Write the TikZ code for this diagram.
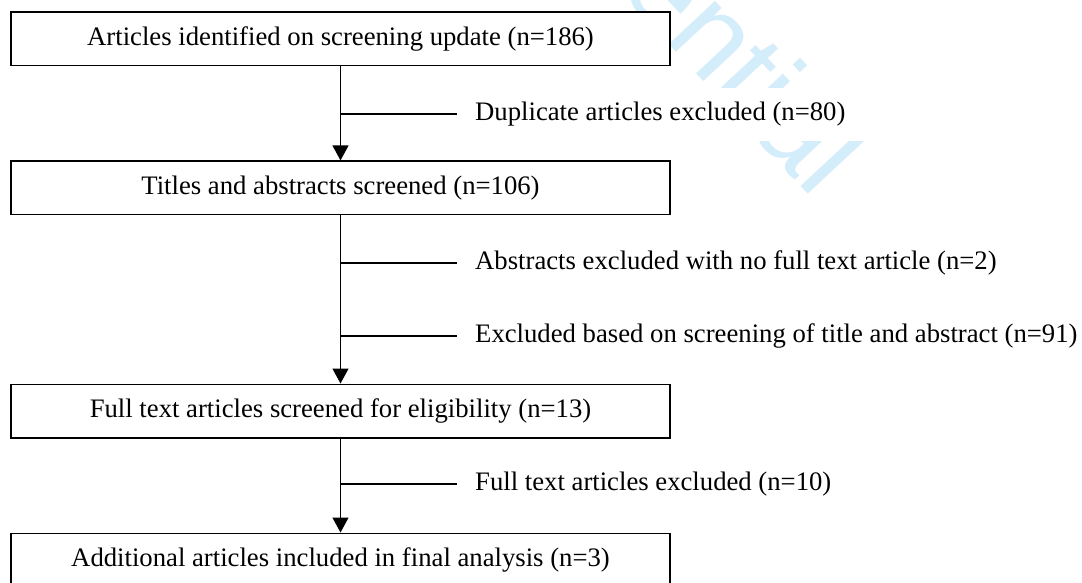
\documentclass[tikz,border=0pt]{standalone}
\usepackage{fontspec}
\setmainfont{Liberation Serif}
\newfontfamily\wmfont{Liberation Sans}
\usetikzlibrary{arrows.meta}
\definecolor{wmblue}{RGB}{212,237,250}
\newcommand{\exbox}[1]{\makebox[600pt][l]{#1}}
\begin{document}
\begin{tikzpicture}[x=1pt,y=-1pt,
  every node/.style={font=\fontsize{26.7}{32}\selectfont},
  stagebox/.style={draw=black,line width=1.3pt,fill=white,minimum width=659pt,minimum height=53.7pt,inner sep=0pt,anchor=center},
  exlabel/.style={fill=white,anchor=west,inner xsep=18pt,inner ysep=0pt,minimum height=53pt},
  flow/.style={line width=1.3pt,-{Triangle[width=16pt,length=15pt]}},
  branch/.style={line width=1.3pt}]
\clip (0,0) rectangle (1082,582);
\fill[white] (0,0) rectangle (1082,582);
% watermark
\node[anchor=base west,rotate=-47,text=wmblue,inner sep=0pt,font=\wmfont\fontsize{120}{120}\selectfont] (wm) at (381,-264) {Confidential};
% boxes
\node[stagebox] (b1) at (340.5,38.9) {Articles identified on screening update (n=186)};
\node[stagebox] (b2) at (340.5,187.9) {Titles and abstracts screened (n=106)};
\node[stagebox] (b3) at (340.5,411) {Full text articles screened for eligibility (n=13)};
\node[stagebox] (b4) at (340.5,560) {Additional articles included in final analysis (n=3)};
% labels
\node[exlabel] (l1) at (457,114) {\exbox{Duplicate articles excluded (n=80)}};
\node[exlabel] (l2) at (457,263) {\exbox{Abstracts excluded with no full text article (n=2)}};
\node[exlabel] (l3) at (457,336) {\exbox{Excluded based on screening of title and abstract (n=91)}};
\node[exlabel] (l4) at (457,484) {\exbox{Full text articles excluded (n=10)}};
% junctions
\coordinate (j1) at (340.5,114);
\coordinate (j2) at (340.5,263);
\coordinate (j3) at (340.5,336);
\coordinate (j4) at (340.5,484);
% connectors
\draw[flow] (b1.south) -- (b2.north);
\draw[flow] (b2.south) -- (b3.north);
\draw[flow] (b3.south) -- (b4.north);
\draw[branch] (j1) -- (l1.west);
\draw[branch] (j2) -- (l2.west);
\draw[branch] (j3) -- (l3.west);
\draw[branch] (j4) -- (l4.west);
\end{tikzpicture}
\end{document}
